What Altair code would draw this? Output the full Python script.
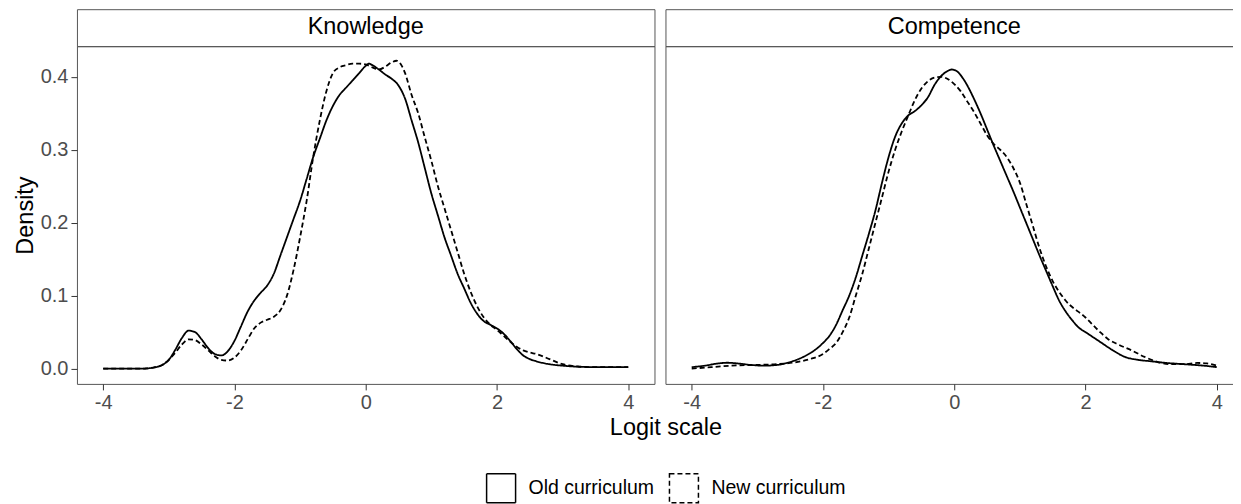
import altair as alt
import pandas as pd

panels = ["Knowledge", "Competence"]
groups = ["Old curriculum", "New curriculum"]
x_ticks = [-4, -2, 0, 2, 4]
y_ticks = [0.0, 0.1, 0.2, 0.3, 0.4]

# Knowledge, old curriculum (solid)
know_old_x = [-4.0, -3.4, -3.2, -3.1, -3.0, -2.9, -2.8, -2.7, -2.6, -2.5, -2.4, -2.3, -2.2, -2.1,
              -2.0, -1.9, -1.8, -1.7, -1.6, -1.5, -1.4, -1.3, -1.2, -1.1, -1.0, -0.9, -0.8, -0.7,
              -0.6, -0.5, -0.4, -0.3, -0.2, -0.1, 0.0, 0.05, 0.1, 0.2, 0.3, 0.4, 0.5, 0.6, 0.7,
              0.8, 0.9, 1.0, 1.1, 1.2, 1.3, 1.4, 1.5, 1.6, 1.7, 1.8, 1.9, 2.0, 2.1, 2.2, 2.3,
              2.4, 2.5, 2.6, 2.8, 3.0, 3.5, 4.0]
know_old_y = [0.0, 0.0, 0.002, 0.005, 0.012, 0.026, 0.042, 0.052, 0.05, 0.04, 0.028, 0.02, 0.018, 0.024,
              0.038, 0.058, 0.078, 0.093, 0.104, 0.114, 0.13, 0.155, 0.18, 0.205, 0.23, 0.26, 0.29, 0.315,
              0.34, 0.36, 0.375, 0.385, 0.395, 0.405, 0.415, 0.418, 0.416, 0.41, 0.403, 0.397, 0.388, 0.37, 0.34,
              0.31, 0.275, 0.24, 0.21, 0.18, 0.155, 0.13, 0.11, 0.09, 0.075, 0.065, 0.06, 0.055, 0.048, 0.038, 0.027,
              0.018, 0.013, 0.01, 0.006, 0.004, 0.002, 0.002]

# Knowledge, new curriculum (dashed)
know_new_x = [-4.0, -3.4, -3.2, -3.1, -3.0, -2.9, -2.8, -2.7, -2.6, -2.5, -2.4, -2.3, -2.2, -2.1,
              -2.0, -1.9, -1.8, -1.7, -1.6, -1.5, -1.4, -1.3, -1.2, -1.1, -1.0, -0.9, -0.8, -0.7,
              -0.6, -0.5, -0.4, -0.3, -0.2, -0.1, 0.0, 0.1, 0.2, 0.3, 0.4, 0.47, 0.55, 0.6, 0.7,
              0.8, 0.9, 1.0, 1.1, 1.2, 1.3, 1.4, 1.5, 1.6, 1.7, 1.8, 1.9, 2.0, 2.1, 2.2, 2.3,
              2.4, 2.5, 2.6, 2.8, 3.0, 3.2, 3.5, 4.0]
know_new_y = [0.0, 0.0, 0.002, 0.005, 0.012, 0.022, 0.033, 0.04, 0.039, 0.033, 0.025, 0.017, 0.012, 0.011,
              0.015, 0.025, 0.04, 0.055, 0.063, 0.067, 0.071, 0.08, 0.1, 0.135, 0.18, 0.23, 0.29, 0.34,
              0.38, 0.405, 0.413, 0.416, 0.418, 0.418, 0.417, 0.413, 0.41, 0.414, 0.42, 0.422, 0.415, 0.405, 0.375,
              0.35, 0.317, 0.285, 0.25, 0.22, 0.19, 0.16, 0.13, 0.105, 0.085, 0.07, 0.06, 0.053, 0.045, 0.037, 0.03,
              0.025, 0.022, 0.02, 0.013, 0.006, 0.003, 0.002, 0.002]

# Competence, old curriculum (solid)
comp_old_x = [-4.0, -3.8, -3.6, -3.45, -3.3, -3.1, -2.9, -2.7, -2.5, -2.3, -2.1, -2.0, -1.9, -1.8,
              -1.7, -1.6, -1.5, -1.4, -1.3, -1.2, -1.1, -1.0, -0.9, -0.8, -0.7, -0.6, -0.5, -0.4,
              -0.3, -0.2, -0.1, -0.04, 0.05, 0.1, 0.2, 0.3, 0.4, 0.5, 0.6, 0.7, 0.8, 0.9, 1.0,
              1.1, 1.2, 1.3, 1.4, 1.5, 1.6, 1.7, 1.8, 1.9, 2.0, 2.1, 2.2, 2.4, 2.6, 2.8, 3.0,
              3.2, 3.5, 3.8, 4.0]
comp_old_y = [0.002, 0.004, 0.007, 0.008, 0.007, 0.005, 0.004, 0.005, 0.009, 0.016, 0.027, 0.035, 0.045, 0.06,
              0.08, 0.1, 0.125, 0.155, 0.185, 0.217, 0.255, 0.29, 0.318, 0.336, 0.347, 0.353, 0.361, 0.372,
              0.389, 0.401, 0.408, 0.41, 0.407, 0.402, 0.388, 0.37, 0.35, 0.328, 0.306, 0.285, 0.264, 0.243, 0.221,
              0.199, 0.177, 0.155, 0.134, 0.113, 0.093, 0.078, 0.066, 0.056, 0.05, 0.044, 0.038, 0.026, 0.016, 0.012, 0.01,
              0.008, 0.006, 0.004, 0.002]

# Competence, new curriculum (dashed)
comp_new_x = [-4.0, -3.7, -3.4, -3.0, -2.7, -2.4, -2.2, -2.0, -1.9, -1.8, -1.7, -1.6, -1.5, -1.4,
              -1.3, -1.2, -1.1, -1.0, -0.9, -0.8, -0.7, -0.6, -0.5, -0.4, -0.3, -0.2, -0.1, 0.0,
              0.1, 0.2, 0.3, 0.4, 0.5, 0.6, 0.7, 0.8, 0.9, 1.0, 1.1, 1.2, 1.3, 1.4, 1.5, 1.6,
              1.69, 2.0, 2.2, 2.35, 2.5, 2.7, 2.9, 3.1, 3.3, 3.5, 3.7, 3.85, 4.0]
comp_new_y = [0.0, 0.002, 0.004, 0.005, 0.006, 0.009, 0.013, 0.02, 0.027, 0.035, 0.05, 0.07, 0.1, 0.13,
              0.165, 0.2, 0.235, 0.27, 0.3, 0.325, 0.347, 0.368, 0.384, 0.394, 0.399, 0.4, 0.397, 0.39,
              0.38, 0.366, 0.352, 0.336, 0.32, 0.308, 0.3, 0.29, 0.275, 0.255, 0.225, 0.195, 0.165, 0.14, 0.12, 0.105,
              0.094, 0.07, 0.052, 0.04, 0.033, 0.025, 0.016, 0.009, 0.006, 0.006, 0.0077, 0.007, 0.004]

series = [
    ("Knowledge", "Old curriculum", know_old_x, know_old_y),
    ("Knowledge", "New curriculum", know_new_x, know_new_y),
    ("Competence", "Old curriculum", comp_old_x, comp_old_y),
    ("Competence", "New curriculum", comp_new_x, comp_new_y),
]
rows = []
for panel, group, xs, ys in series:
    for xv, yv in zip(xs, ys):
        rows.append({"panel": panel, "group": group, "x": xv, "y": yv})
df = pd.DataFrame(rows)

FONT = "Liberation Sans"
PANEL_H = 338
STRIP_H = 37
PANEL_W = 578
X_DOMAIN = [-4.4, 4.4]
Y_DOMAIN = [-0.021, 0.442]

legend = alt.Legend(
    title=None, orient="none", legendX=409, legendY=464, direction="horizontal",
    symbolType="square", symbolSize=841, symbolStrokeWidth=1.5, symbolStrokeColor="black",
    symbolFillColor="white", labelFontSize=19.5, labelColor="black", labelFont=FONT,
    labelOffset=12, columnPadding=12
)


def panel_chart(name, show_y, xtitle):
    axis_kw = dict(values=x_ticks, labelExpr="datum.value + ''", labelFontSize=20,
                   labelColor="#4D4D4D", tickColor="#333333", tickSize=6, labelPadding=3,
                   domain=False, grid=False)
    if xtitle:
        x_axis = alt.Axis(titleFontSize=23.5, titleColor="black", titleFontWeight="normal",
                          titlePadding=3, titleX=666 - 77, **axis_kw)
        x_enc = alt.X("x:Q", title=xtitle,
                      scale=alt.Scale(domain=X_DOMAIN, nice=False, zero=False), axis=x_axis)
    else:
        x_enc = alt.X("x:Q", title=None,
                      scale=alt.Scale(domain=X_DOMAIN, nice=False, zero=False),
                      axis=alt.Axis(**axis_kw))
    if show_y:
        y_enc = alt.Y("y:Q", title="Density",
                      scale=alt.Scale(domain=Y_DOMAIN, nice=False, zero=False),
                      axis=alt.Axis(values=y_ticks, format=".1f", labelFontSize=20, labelColor="#4D4D4D",
                                    tickColor="#333333", tickSize=6, labelPadding=3, domain=False,
                                    grid=False, titleFontSize=23.5, titleColor="black",
                                    titleFontWeight="normal", titlePadding=3))
    else:
        y_enc = alt.Y("y:Q", scale=alt.Scale(domain=Y_DOMAIN, nice=False, zero=False), axis=None)
    lines = alt.Chart(df).transform_filter(alt.datum.panel == name).mark_line(
        color="black", strokeWidth=1.8, interpolate="monotone", clip=True
    ).encode(
        x=x_enc,
        y=y_enc,
        strokeDash=alt.StrokeDash("group:N", scale=alt.Scale(domain=groups, range=[[1, 0], [5, 3]]),
                                  legend=legend),
    ).properties(width=PANEL_W, height=PANEL_H)

    strip = alt.Chart(pd.DataFrame({"panel": [name]})).mark_text(
        fontSize=23.5, font=FONT, color="black", baseline="middle", align="center"
    ).encode(
        x=alt.value(PANEL_W / 2), y=alt.value(STRIP_H / 2 - 1), text="panel:N"
    ).properties(width=PANEL_W, height=STRIP_H)

    return strip, lines


strip_k, panel_k = panel_chart("Knowledge", True, "Logit scale")
strip_c, panel_c = panel_chart("Competence", False, None)

chart = alt.concat(
    strip_k, strip_c, panel_k, panel_c, columns=2,
    spacing={"row": 0, "column": 11}, bounds="flush"
).properties(
    padding={"left": 4, "top": 0, "right": -11, "bottom": 0}
).configure(font=FONT).configure_view(stroke="#555555", strokeWidth=1)

chart.save("out.html", embed_options={"renderer": "svg", "actions": False})
